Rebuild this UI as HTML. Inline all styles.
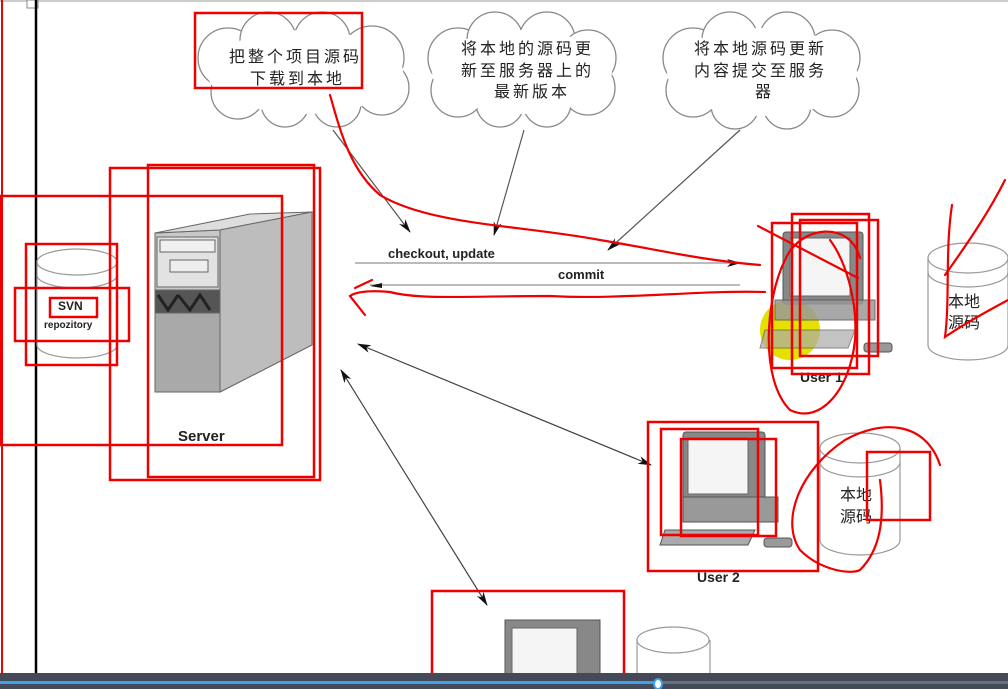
<!DOCTYPE html>
<html><head><meta charset="utf-8"><style>
html,body{margin:0;padding:0;background:#fff;}
svg{display:block}
text{font-family:"Liberation Sans","Noto Sans CJK SC",sans-serif;}
.cj{font-family:"Noto Sans CJK SC","WenQuanYi Zen Hei",sans-serif;font-size:16px;fill:#222;}
</style></head><body>
<svg width="1008" height="689" viewBox="0 0 1008 689" xmlns="http://www.w3.org/2000/svg">
<defs>
<marker id="ah" markerWidth="14" markerHeight="8" refX="13" refY="4" orient="auto" markerUnits="userSpaceOnUse"><path d="M0,0 L14,4 L0,8 L4,4z" fill="#111"/></marker>
<marker id="as" markerWidth="14" markerHeight="8" refX="1" refY="4" orient="auto" markerUnits="userSpaceOnUse"><path d="M14,0 L0,4 L14,8 L10,4z" fill="#111"/></marker>
</defs>
<rect width="1008" height="689" fill="#fff"/>
<line x1="0" y1="1" x2="1008" y2="1" stroke="#ccc" stroke-width="2"/>
<rect x="27" y="0" width="11" height="8" fill="#fff" stroke="#888"/>
<line x1="36" y1="0" x2="36" y2="673" stroke="#000" stroke-width="2.5"/>
<line x1="2" y1="0" x2="2" y2="673" stroke="#e00" stroke-width="2"/>

<!-- clouds -->
<g fill="#fff" stroke="#888" stroke-width="1.3">
 <g>
  <circle cx="228" cy="58" r="30"/><circle cx="268" cy="40" r="28"/><circle cx="322" cy="40" r="28"/><circle cx="372" cy="58" r="32"/><circle cx="382" cy="88" r="27"/><circle cx="337" cy="103" r="24"/><circle cx="285" cy="103" r="24"/><circle cx="238" cy="92" r="27"/>
  <ellipse cx="305" cy="72" rx="98" ry="42" stroke="none"/>
 </g>
 <g>
  <circle cx="458" cy="58" r="30"/><circle cx="495" cy="40" r="28"/><circle cx="547" cy="40" r="28"/><circle cx="588" cy="58" r="28"/><circle cx="588" cy="88" r="27"/><circle cx="547" cy="103" r="24"/><circle cx="500" cy="103" r="24"/><circle cx="458" cy="90" r="27"/>
  <ellipse cx="522" cy="72" rx="90" ry="42" stroke="none"/>
 </g>
 <g>
  <circle cx="693" cy="58" r="30"/><circle cx="730" cy="40" r="28"/><circle cx="787" cy="40" r="28"/><circle cx="832" cy="58" r="28"/><circle cx="832" cy="90" r="27"/><circle cx="787" cy="105" r="24"/><circle cx="735" cy="105" r="24"/><circle cx="693" cy="90" r="27"/>
  <ellipse cx="762" cy="72" rx="95" ry="44" stroke="none"/>
 </g>
</g>
<text class="cj" x="229" y="62" letter-spacing="3">把整个项目源码</text>
<text class="cj" x="250" y="84" letter-spacing="3">下载到本地</text>
<text class="cj" x="461" y="54" letter-spacing="3">将本地的源码更</text>
<text class="cj" x="461" y="76" letter-spacing="3">新至服务器上的</text>
<text class="cj" x="494" y="97" letter-spacing="3">最新版本</text>
<text class="cj" x="694" y="54" letter-spacing="3">将本地源码更新</text>
<text class="cj" x="694" y="76" letter-spacing="3">内容提交至服务</text>
<text class="cj" x="755" y="97" letter-spacing="3">器</text>
<rect x="195" y="13" width="167" height="75" fill="none" stroke="#e00" stroke-width="2.5"/>

<!-- pointers -->
<g stroke="#555" stroke-width="1.2" fill="none">
<line x1="333" y1="130" x2="410" y2="232" marker-end="url(#ah)"/>
<line x1="524" y1="130" x2="494" y2="235" marker-end="url(#ah)"/>
<line x1="740" y1="130" x2="608" y2="250" marker-end="url(#ah)"/>
</g>

<!-- checkout / commit -->
<line x1="355" y1="263" x2="740" y2="263" stroke="#bbb" stroke-width="2" marker-end="url(#ah)"/>
<line x1="370" y1="285" x2="740" y2="285" stroke="#bbb" stroke-width="2"/>
<path d="M382,283 L370,286 L382,288z" fill="#111"/>
<text x="388" y="258" font-size="13" font-weight="bold" fill="#222">checkout, update</text>
<text x="558" y="279" font-size="13" font-weight="bold" fill="#222">commit</text>

<!-- SVN cylinder -->
<g fill="#fff" stroke="#999" stroke-width="1.2">
<path d="M37,262 L37,345 A40,13 0 0 0 117,345 L117,262"/>
<ellipse cx="77" cy="262" rx="40" ry="13"/>
<path d="M37,275 A40,13 0 0 0 117,275" fill="none"/>
</g>
<text x="58" y="310" font-size="12" font-weight="bold" fill="#222">SVN</text>
<text x="44" y="328" font-size="10" font-weight="bold" fill="#222">repozitory</text>

<!-- server tower -->
<g stroke="#666" stroke-width="1">
<path d="M155,233 L220,230 L312,212 L312,345 L220,392 L155,392z" fill="#c8c8c8"/>
<path d="M155,233 L220,230 L312,212 L250,214z" fill="#ddd"/>
<path d="M220,230 L312,212 L312,345 L220,392z" fill="#bdbdbd"/>
<rect x="157" y="237" width="61" height="50" fill="#e2e2e2"/>
<rect x="160" y="240" width="55" height="12" fill="#f0f0f0"/>
<rect x="170" y="260" width="38" height="12" fill="#eee"/>
<rect x="155" y="290" width="65" height="23" fill="#555"/>
<path d="M158,295 L168,310 L178,295 M178,295 L190,310 L200,295 L210,310" stroke="#222" fill="none" stroke-width="3"/>
<rect x="155" y="313" width="65" height="79" fill="#a9a9a9"/>
</g>
<text x="178" y="441" font-size="15" font-weight="bold" fill="#222">Server</text>

<!-- computer user1 -->
<circle cx="790" cy="330" r="30" fill="#e6e000"/>
<g>
<rect x="783" y="232" width="80" height="72" rx="3" fill="#888" stroke="#555"/>
<rect x="790" y="238" width="60" height="58" fill="#f5f5f5" stroke="#666"/>
<rect x="775" y="300" width="100" height="20" fill="#999" stroke="#555" opacity="0.85"/>
<path d="M765,330 L855,330 L848,348 L760,348z" fill="#aaa" stroke="#555" opacity="0.7"/>
<rect x="864" y="343" width="28" height="9" rx="3" fill="#999" stroke="#555"/>
</g>
<text x="800" y="382" font-size="14" font-weight="bold" fill="#222">User 1</text>

<g>
<rect x="683" y="432" width="82" height="68" rx="3" fill="#888" stroke="#555"/>
<rect x="688" y="438" width="60" height="56" fill="#f5f5f5" stroke="#666"/>
<rect x="683" y="497" width="95" height="25" fill="#999" stroke="#555"/>
<path d="M665,530 L755,530 L748,545 L660,545z" fill="#aaa" stroke="#555"/>
<rect x="764" y="538" width="28" height="9" rx="3" fill="#999" stroke="#555"/>
</g>
<text x="697" y="582" font-size="14" font-weight="bold" fill="#222">User 2</text>

<!-- cylinders right -->
<g fill="#fff" stroke="#999" stroke-width="1.2">
<path d="M928,258 L928,345 A40,15 0 0 0 1008,345 L1008,258"/>
<ellipse cx="968" cy="258" rx="40" ry="15"/>
<path d="M928,272 A40,15 0 0 0 1008,272" fill="none"/>
<path d="M820,448 L820,540 A40,15 0 0 0 900,540 L900,448"/>
<ellipse cx="860" cy="448" rx="40" ry="15"/>
<path d="M820,462 A40,15 0 0 0 900,462" fill="none"/>
<path d="M637,640 L637,690 L710,690 L710,640"/>
<ellipse cx="673" cy="640" rx="36" ry="13"/>
</g>
<text class="cj" x="948" y="307" font-size="16">本地</text>
<text class="cj" x="948" y="328" font-size="16">源码</text>
<text class="cj" x="840" y="500" font-size="16">本地</text>
<text class="cj" x="840" y="522" font-size="16">源码</text>

<!-- bottom monitor -->
<rect x="505" y="620" width="95" height="60" fill="#888" stroke="#555"/>
<rect x="512" y="628" width="65" height="52" fill="#f5f5f5" stroke="#666"/>

<!-- double arrows -->
<line x1="358" y1="344" x2="651" y2="465" stroke="#444" stroke-width="1.2" marker-start="url(#as)" marker-end="url(#ah)"/>
<line x1="341" y1="370" x2="487" y2="605" stroke="#444" stroke-width="1.2" marker-start="url(#as)" marker-end="url(#ah)"/>

<!-- red annotation rects -->
<g fill="none" stroke="#e00" stroke-width="2.5">
<rect x="110" y="168" width="210" height="312"/>
<rect x="148" y="165" width="166" height="312"/>
<rect x="0" y="196" width="282" height="249"/>
<rect x="26" y="244" width="91" height="121"/>
<rect x="15" y="288" width="114" height="53"/>
<rect x="50" y="298" width="47" height="19"/>
<rect x="772" y="223" width="85" height="145"/>
<rect x="792" y="214" width="77" height="160"/>
<rect x="800" y="220" width="78" height="136"/>
<rect x="648" y="422" width="170" height="149"/>
<rect x="661" y="429" width="97" height="106"/>
<rect x="681" y="439" width="95" height="97"/>
<rect x="867" y="452" width="63" height="68"/>
<rect x="432" y="591" width="192" height="100"/>
</g>
<!-- red freehand -->
<g fill="none" stroke="#e00" stroke-width="2.2" stroke-linecap="round">
<path d="M330,95 C340,130 350,170 380,195 C430,225 520,225 600,240 C660,250 700,260 760,265"/>
<path d="M765,292 C700,290 620,300 550,296 C470,296 420,300 390,292 C370,290 355,292 350,296 L365,315"/>
<path d="M355,288 L372,280"/>
<path d="M758,226 L858,278"/>
<path d="M860,258 C850,220 800,225 785,260 C765,300 760,380 790,410 C820,425 850,390 855,340 C858,300 845,260 830,240"/>
<path d="M952,205 C945,250 950,300 945,337 C970,320 990,310 1008,300"/>
<path d="M945,275 C970,240 990,210 1005,180"/>
<path d="M940,465 C925,420 880,420 845,440 C800,470 780,520 800,550 C820,570 850,575 860,570 C880,550 885,520 880,480"/>
</g>

<!-- bottom bar -->
<rect x="0" y="673" width="1008" height="16" fill="#454a58"/>
<rect x="0" y="681" width="1008" height="3" fill="#6a6f7c"/>
<rect x="0" y="681" width="658" height="3" fill="#3ba0f0"/>
<ellipse cx="658" cy="684" rx="4" ry="5" fill="#fff" stroke="#3ba0f0" stroke-width="2"/>
</svg>
</body></html>
